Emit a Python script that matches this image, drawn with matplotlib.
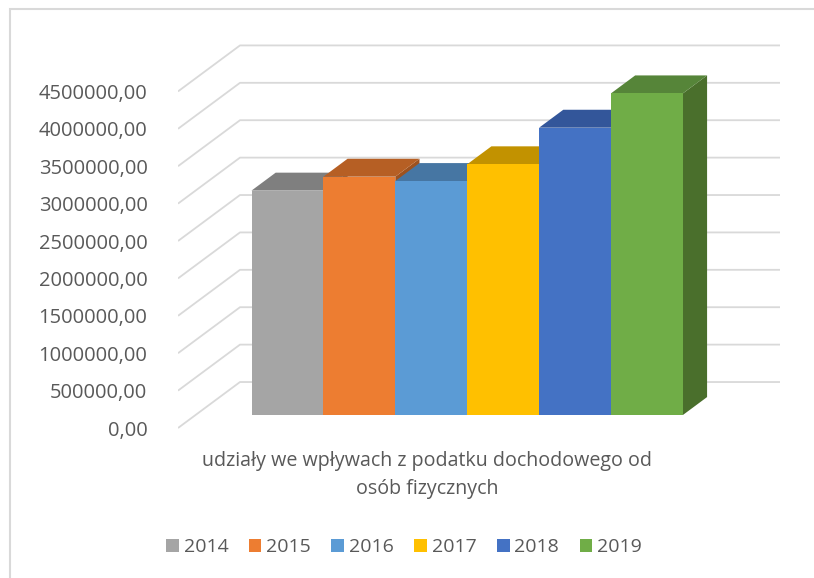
import numpy as np
import matplotlib
matplotlib.use("Agg")
import matplotlib.pyplot as plt
from matplotlib.patches import Polygon, Rectangle, Patch

plt.rcParams['font.family'] = ['Open Sans', 'DejaVu Sans']

years = ['2014', '2015', '2016', '2017', '2018', '2019']
values = [3000000, 3186000, 3128000, 3352000, 3841000, 4300000]
category = 'udziały we wpływach z podatku dochodowego od\nosób fizycznych'
grid_values = np.arange(0, 4500001, 500000)
tick_labels = ['%d,00' % v for v in grid_values]

front_cols = ['#A5A5A5', '#ED7D31', '#5B9BD5', '#FFC000', '#4472C4', '#70AD47']
top_cols = ['#7F7F7F', '#B65F24', '#4676A3', '#C29200', '#33569A', '#568539']
side_cols = ['#6E6E6E', '#9E521F', '#3C668F', '#A87F00', '#2C4B86', '#4A6F2C']
text_col = '#595959'
grid_col = '#D9D9D9'

# oblique "3d" geometry in data units (bar width = 1 on x)
px_x = 71.9                 # pixels per bar
px_y = 37.4 / 500000        # pixels per value unit
wall_dx, wall_dy = 62 / px_x, 46 / px_y          # full floor depth
front_frac, depth_frac = 0.283, 0.39             # bar position / depth in floor
floor_x = -(56 + 17.5) / px_x                    # left wall, front edge
floor_y = -front_frac * wall_dy
bar_dx, bar_dy = depth_frac * wall_dx, depth_frac * wall_dy
back_right = floor_x + (780 - 178) / px_x

W, H = 814, 578
fig = plt.figure(figsize=(W / 100, H / 100), dpi=100)
ax_left, ax_right, ax_top, ax_bot = 178, 790, 30, 440
ax = fig.add_axes([ax_left / W, 1 - ax_bot / H, (ax_right - ax_left) / W, (ax_bot - ax_top) / H])
ax.set_xlim(floor_x, floor_x + (ax_right - ax_left) / px_x)
y0 = -(ax_bot - 415) / px_y
ax.set_ylim(y0, y0 + (ax_bot - ax_top) / px_y)
for s in ax.spines.values():
    s.set_visible(False)
ax.set_xticks([])

# gridlines: left wall diagonal + back wall horizontal
for v in grid_values:
    ax.plot([floor_x, floor_x + wall_dx, back_right],
            [v + floor_y, v + floor_y + wall_dy, v + floor_y + wall_dy],
            color=grid_col, lw=1.3, solid_capstyle='butt', zorder=1)

ax.set_yticks(grid_values + floor_y)
ax.set_yticklabels(tick_labels, color=text_col, fontsize=14.5)
ax.tick_params(axis='y', length=0, pad=22)

# bars
x = np.arange(len(values))
ax.bar(x, values, width=1.0, align='edge', color=front_cols, edgecolor='none', zorder=3)
for i, v in enumerate(values):
    z = 2 + i * 3
    side = Polygon([(i + 1, 0), (i + 1, v), (i + 1 + bar_dx, v + bar_dy), (i + 1 + bar_dx, bar_dy)],
                   closed=True, facecolor=side_cols[i], edgecolor='none', zorder=z)
    top = Polygon([(i, v), (i + 1, v), (i + 1 + bar_dx, v + bar_dy), (i + bar_dx, v + bar_dy)],
                  closed=True, facecolor=top_cols[i], edgecolor='none', zorder=z + 1)
    front = Rectangle((i, 0), 1, v, facecolor=front_cols[i], edgecolor='none', zorder=z + 2)
    ax.add_patch(side)
    ax.add_patch(top)
    ax.add_patch(front)

# category label
fig.text(427 / W, 1 - 475 / H, category, ha='center', va='center', color=text_col,
         fontsize=14.1, linespacing=1.5)

# legend
handles = [Patch(facecolor=c, edgecolor='none') for c in front_cols]
fig.legend(handles, years, loc='center', bbox_to_anchor=(404 / W, 1 - 547 / H), ncol=6,
           frameon=False, fontsize=14, labelcolor=text_col, handlelength=0.65, handleheight=0.65,
           handletextpad=0.25, columnspacing=1.05)

# chart border
fig.patches.append(Rectangle((10 / W, -0.1), 1.2, 1 - 9 / H + 0.1, transform=fig.transFigure,
                             fill=False, edgecolor='#D9D9D9', lw=1.5))

fig.savefig('out.png', dpi=100)
